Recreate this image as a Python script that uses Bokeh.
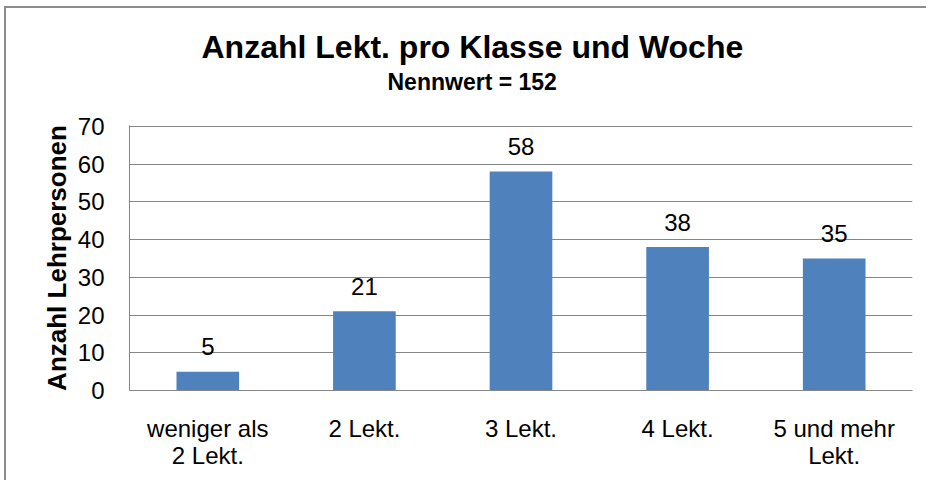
from bokeh.plotting import figure
from bokeh.models import ColumnDataSource, FactorRange, Range1d, FixedTicker, Title
from bokeh.embed import file_html
from bokeh.resources import INLINE
from bokeh.core.properties import value

categories = ["weniger als\n2 Lekt.", "2 Lekt.", "3 Lekt.", "4 Lekt.", "5 und mehr\nLekt."]
counts = [5, 21, 58, 38, 35]
y_ticks = [0, 10, 20, 30, 40, 50, 60, 70]
title_text = "Anzahl Lekt. pro Klasse und Woche"
subtitle_text = "Nennwert = 152"
y_label = "Anzahl Lehrpersonen"

FONT = "Liberation Sans"
GRID = "#868686"

src = ColumnDataSource(dict(cat=categories, val=counts, lab=[str(v) for v in counts]))

p = figure(width=922, height=474, x_range=FactorRange(*categories, range_padding=0),
           y_range=Range1d(0, 70.2), output_backend="svg", toolbar_location=None,
           min_border_left=123, min_border_right=16, min_border_top=117, min_border_bottom=92)
p.styles = {"border-left": "2px solid #8c8c8c", "border-top": "2px solid #8c8c8c",
            "margin-left": "4px", "margin-top": "6px"}

p.vbar(x="cat", top="val", width=0.4, source=src, color="#4F81BD", line_color=None)
p.text(x="cat", y="val", text="lab", source=src, text_align="center", text_baseline="middle",
       y_offset=-25, text_font=value(FONT), text_font_size="24px", text_color="black")

p.outline_line_color = None
p.xgrid.grid_line_color = None
p.ygrid.grid_line_color = GRID
p.ygrid.grid_line_width = 1
p.ygrid.ticker = FixedTicker(ticks=y_ticks)
p.yaxis.ticker = FixedTicker(ticks=y_ticks)

for ax in (p.xaxis[0], p.yaxis[0]):
    ax.axis_line_color = GRID
    ax.axis_line_width = 1
    ax.major_tick_line_color = None
    ax.minor_tick_line_color = None
    ax.major_label_text_font = FONT
    ax.major_label_text_font_size = "24px"
    ax.major_label_text_color = "black"

p.xaxis.major_label_text_line_height = 1.0
p.yaxis.major_label_standoff = 19
p.xaxis.major_label_standoff = 18
p.yaxis.axis_label = y_label
p.yaxis.axis_label_text_font = FONT
p.yaxis.axis_label_text_font_style = "bold"
p.yaxis.axis_label_text_font_size = "26px"
p.yaxis.axis_label_text_color = "black"
p.yaxis.axis_label_standoff = 3

# spacer between subtitle and plot area
p.add_layout(Title(text=" ", text_font_size="2px", standoff=25), "above")
p.add_layout(Title(text=subtitle_text, align="left", offset=258, standoff=4, text_font=FONT,
                   text_font_style="bold", text_font_size="23px", text_color="black"), "above")
p.add_layout(Title(text=title_text, align="left", offset=72, standoff=0, text_font=FONT,
                   text_font_style="bold", text_font_size="32px", text_color="black"), "above")

open("out.html", "w").write(file_html(p, INLINE))
